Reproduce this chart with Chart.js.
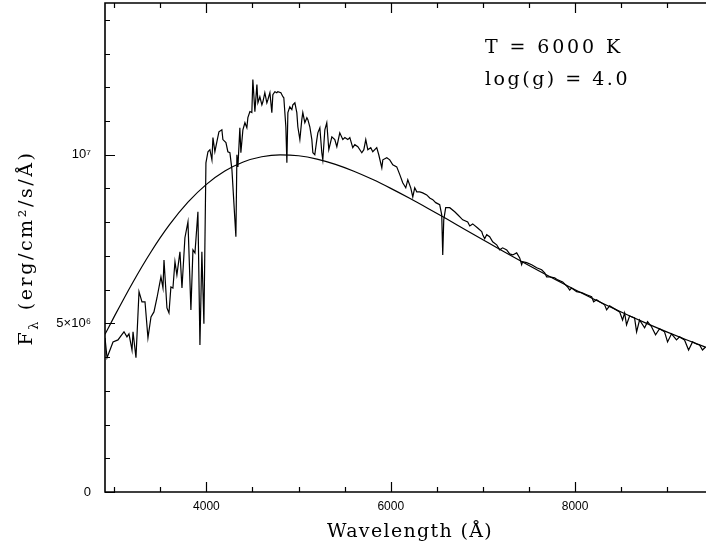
<!DOCTYPE html>
<html>
<head>
<meta charset="utf-8">
<title>Spectrum T = 6000 K</title>
<script src="https://cdn.jsdelivr.net/npm/chart.js@4/dist/chart.umd.min.js"></script>
<style>
  body { margin: 0; background: #fff; }
  canvas { display: block; }
</style>
</head>
<body>
<canvas id="chartSpektrum" width="706" height="549"></canvas>
<script>
// ===============================
// Data (flux in units of 10^6 erg/cm²/s/Å)
// ===============================

// observed / model spectrum
const spekWave = [
    2900, 2922, 2954, 2987, 3041, 3073, 3106, 3138, 3160, 3193, 3204, 3236, 3269, 3301, 3334, 3366,
    3399, 3431, 3464, 3507, 3529, 3540, 3572, 3594, 3615, 3637, 3659, 3680, 3713, 3735, 3767, 3800,
    3832, 3854, 3876, 3908, 3930, 3951, 3973, 3995, 4017, 4038, 4060, 4071, 4092, 4114, 4136, 4168,
    4179, 4212, 4233, 4255, 4277, 4298, 4320, 4331, 4342, 4363, 4374, 4396, 4418, 4439, 4450, 4472,
    4493, 4504, 4526, 4548, 4559, 4580, 4602, 4613, 4634, 4656, 4667, 4689, 4710, 4721, 4743, 4764,
    4775, 4808, 4830, 4840, 4862, 4873, 4884, 4905, 4927, 4938, 4960, 4981, 4992, 5014, 5035, 5046,
    5068, 5090, 5101, 5122, 5144, 5155, 5176, 5198, 5209, 5231, 5252, 5263, 5285, 5306, 5328, 5361,
    5393, 5415, 5447, 5480, 5502, 5534, 5556, 5588, 5610, 5643, 5686, 5708, 5729, 5751, 5783, 5805,
    5848, 5870, 5903, 5914, 5957, 5989, 6022, 6065, 6098, 6130, 6163, 6185, 6217, 6239, 6260, 6282,
    6315, 6347, 6390, 6423, 6456, 6488, 6531, 6553, 6564, 6575, 6596, 6640, 6694, 6727, 6781, 6835,
    6857, 6889, 6943, 6987, 6998, 7019, 7041, 7073, 7106, 7149, 7182, 7214, 7258, 7290, 7323, 7366,
    7399, 7420, 7431, 7474, 7529, 7583, 7637, 7670, 7691, 7724, 7778, 7811, 7865, 7919, 7941, 7962,
    8016, 8071, 8125, 8179, 8201, 8233, 8266, 8320, 8342, 8374, 8428, 8483, 8515, 8537, 8558, 8591,
    8645, 8667, 8699, 8754, 8786, 8829, 8873, 8916, 8970, 9003, 9046, 9100, 9133, 9187, 9231, 9274,
    9317, 9350, 9382, 9415
];
const spekFlux = [
    4.57, 3.98, 4.21, 4.45, 4.51, 4.63, 4.75, 4.60, 4.69, 4.21, 4.75, 3.98, 5.94, 5.64, 5.64, 4.57,
    5.19, 5.34, 5.76, 6.38, 6.05, 6.88, 5.46, 5.31, 6.08, 6.05, 6.83, 6.44, 7.12, 6.05, 7.54, 8.01,
    5.40, 7.18, 7.09, 8.31, 4.36, 7.12, 4.99, 9.76, 10.09, 10.15, 9.85, 10.51, 10.09, 10.39, 10.68, 10.74,
    10.45, 10.36, 10.09, 10.06, 9.56, 8.58, 7.57, 10.00, 9.64, 10.80, 10.06, 10.74, 10.95, 10.80, 11.10, 11.28,
    11.25, 12.23, 11.28, 12.08, 11.54, 11.72, 11.48, 11.57, 11.84, 11.54, 11.63, 11.84, 11.25, 11.78, 11.87, 11.84,
    11.87, 11.84, 11.72, 11.69, 10.83, 9.76, 11.25, 11.42, 11.34, 11.48, 11.54, 11.25, 10.83, 10.45, 11.04, 11.25,
    10.95, 11.10, 11.04, 10.83, 10.45, 10.06, 10.00, 10.45, 10.65, 10.80, 10.06, 9.85, 10.74, 10.95, 10.15, 10.53,
    10.45, 10.24, 10.65, 10.45, 10.51, 10.45, 10.51, 10.21, 10.30, 10.24, 10.06, 10.15, 10.45, 10.15, 10.21, 10.09,
    10.21, 10.00, 9.61, 9.85, 9.91, 9.85, 9.70, 9.64, 9.41, 9.17, 9.02, 9.26, 9.02, 8.75, 9.02, 8.90,
    8.90, 8.87, 8.81, 8.72, 8.67, 8.58, 8.52, 8.22, 7.03, 8.07, 8.43, 8.43, 8.31, 8.22, 8.07, 8.01,
    7.89, 7.95, 7.83, 7.72, 7.63, 7.51, 7.63, 7.57, 7.42, 7.33, 7.18, 7.24, 7.18, 7.06, 7.03, 7.09,
    6.94, 6.74, 6.83, 6.80, 6.74, 6.65, 6.59, 6.50, 6.38, 6.38, 6.35, 6.29, 6.23, 6.08, 5.99, 6.05,
    5.94, 5.91, 5.85, 5.79, 5.64, 5.70, 5.64, 5.55, 5.40, 5.52, 5.43, 5.34, 5.10, 5.31, 4.96, 5.22,
    5.16, 4.75, 5.10, 4.87, 5.05, 4.90, 4.66, 4.84, 4.75, 4.45, 4.69, 4.51, 4.60, 4.51, 4.21, 4.45,
    4.39, 4.36, 4.21, 4.30
];

// blackbody curve
const bbWave = [
    2900, 3000, 3200, 3400, 3600, 3800, 4000, 4200, 4400, 4600, 4800, 5000, 5200, 5400, 5600, 5800,
    6000, 6200, 6400, 6600, 6800, 7000, 7200, 7400, 7600, 7800, 8000, 8200, 8400, 8600, 8800, 9000,
    9200, 9400, 9420
];
const bbFlux = [
    4.675, 5.200, 6.207, 7.125, 7.926, 8.593, 9.121, 9.516, 9.786, 9.942, 9.999, 9.971, 9.873, 9.716, 9.512, 9.272,
    9.004, 8.717, 8.416, 8.107, 7.794, 7.482, 7.171, 6.866, 6.568, 6.277, 5.996, 5.724, 5.463, 5.212, 4.971, 4.741,
    4.521, 4.311, 4.291
];

// ticks
const xMajorTicks = [4000, 6000, 8000];
const xTickLabels = ["4000", "6000", "8000"];
const xMinorTicks = [3000, 3500, 4500, 5000, 5500, 6500, 7000, 7500, 8500, 9000];
const yMajorTicks = [0, 5, 10];
const yTickLabels = ["0", "5×10⁶", "10⁷"];
const yMinorTicks = [1, 2, 3, 4, 6, 7, 8, 9, 11, 12, 13, 14];

const infoLines = ["T = 6000 K", "log(g) = 4.0"];

// ===============================
// Frame, ticks and labels
// ===============================

const SERIF = "'DejaVu Serif', 'Liberation Serif', serif";

// draw text with adjusted letter spacing so it spans a given width
function teksLebar(ctx, teks, x, y, lebar, size) {
    ctx.font = size + "px " + SERIF;
    ctx.letterSpacing = "0px";
    const w = ctx.measureText(teks).width;
    const sp = (lebar - w) / teks.length;
    ctx.letterSpacing = sp + "px";
    ctx.fillText(teks, x, y);
    ctx.letterSpacing = "0px";
}

const bingkai = {
    id: "bingkai",
    afterDraw(chart) {
        const { ctx, chartArea: a, scales: { x, y } } = chart;
        ctx.save();
        ctx.strokeStyle = "#000";
        ctx.fillStyle = "#000";

        // frame (right side lies outside the picture)
        ctx.lineWidth = 1.6;
        ctx.beginPath();
        ctx.moveTo(a.right + 2, a.top);
        ctx.lineTo(a.left, a.top);
        ctx.lineTo(a.left, a.bottom);
        ctx.lineTo(a.right + 2, a.bottom);
        ctx.stroke();

        ctx.lineWidth = 1.2;
        ctx.beginPath();
        const xt = (v, len) => {
            const px = Math.round(x.getPixelForValue(v)) + 0.5;
            ctx.moveTo(px, a.bottom); ctx.lineTo(px, a.bottom - len);
            ctx.moveTo(px, a.top); ctx.lineTo(px, a.top + len);
        };
        const yt = (v, len) => {
            const py = Math.round(y.getPixelForValue(v)) + 0.5;
            ctx.moveTo(a.left, py); ctx.lineTo(a.left + len, py);
        };
        xMajorTicks.forEach(v => xt(v, 10));
        xMinorTicks.forEach(v => xt(v, 5));
        yMajorTicks.forEach(v => yt(v, 10));
        yMinorTicks.forEach(v => yt(v, 5));
        ctx.stroke();

        // tick labels
        ctx.font = "12px 'Liberation Sans', Arial, sans-serif";
        ctx.textAlign = "center";
        ctx.textBaseline = "middle";
        xMajorTicks.forEach((v, i) => ctx.fillText(xTickLabels[i], x.getPixelForValue(v), a.bottom + 15));
        ctx.textAlign = "right";
        ctx.font = "13px 'Liberation Sans', Arial, sans-serif";
        yMajorTicks.forEach((v, i) => ctx.fillText(yTickLabels[i], a.left - 14, y.getPixelForValue(v)));

        // axis titles
        ctx.textBaseline = "alphabetic";
        ctx.textAlign = "left";
        teksLebar(ctx, "Wavelength (Å)", 327, 537, 166, 19);

        ctx.save();
        ctx.translate(32, 248);
        ctx.rotate(-Math.PI / 2);
        const sisa = " (erg/cm²/s/Å)";
        ctx.font = "19px " + SERIF;
        const wF = ctx.measureText("F").width;
        const wR = ctx.measureText(sisa).width;
        ctx.font = "13px " + SERIF;
        const wL = ctx.measureText("λ").width;
        const target = 195;
        const sp = (target - (wF + wL + wR)) / 16;
        const sx = -target / 2;
        ctx.letterSpacing = sp + "px";
        ctx.font = "19px " + SERIF;
        ctx.fillText("F", sx, 0);
        ctx.font = "13px " + SERIF;
        ctx.fillText("λ", sx + wF + sp, 6);
        ctx.font = "19px " + SERIF;
        ctx.fillText(sisa, sx + wF + wL + 2 * sp, 0);
        ctx.letterSpacing = "0px";
        ctx.restore();

        // parameter text
        teksLebar(ctx, infoLines[0], 485, 53, 138, 19);
        teksLebar(ctx, infoLines[1], 485, 85, 145, 19);

        ctx.restore();
    }
};

// ===============================
// Grafik
// ===============================

const ctx = document.getElementById("chartSpektrum");

new Chart(ctx, {
    type: "line",
    data: {
        datasets: [{
            label: "Spectrum",
            data: spekWave.map((w, i) => ({ x: w, y: spekFlux[i] })),
            borderColor: "#000",
            borderWidth: 1.2,
            pointRadius: 0,
            tension: 0
        }, {
            label: "Blackbody",
            data: bbWave.map((w, i) => ({ x: w, y: bbFlux[i] })),
            borderColor: "#000",
            borderWidth: 1.2,
            pointRadius: 0,
            cubicInterpolationMode: "monotone"
        }]
    },
    options: {
        responsive: false,
        devicePixelRatio: 1,
        animation: false,
        layout: {
            padding: { left: 105, top: 3, right: 0, bottom: 57 }
        },
        plugins: {
            legend: { display: false },
            tooltip: { enabled: false }
        },
        scales: {
            x: { type: "linear", min: 2900, max: 9420, display: false },
            y: { type: "linear", min: 0, max: 14.5, display: false }
        }
    },
    plugins: [bingkai]
});
</script>
</body>
</html>
